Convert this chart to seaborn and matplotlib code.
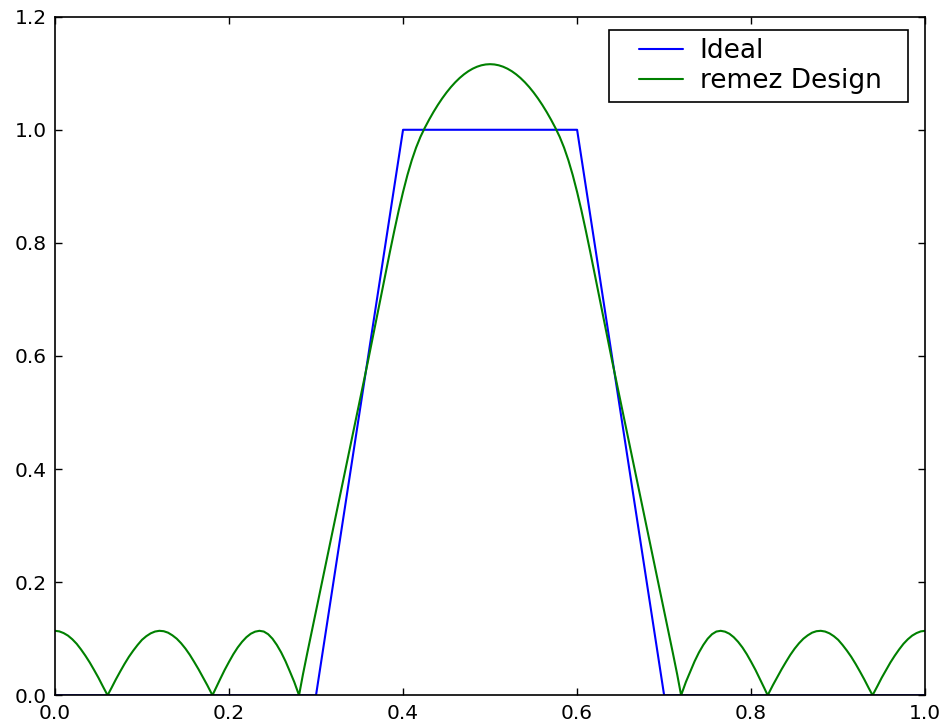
import matplotlib
matplotlib.use("Agg")
import matplotlib.pyplot as plt
from matplotlib.lines import Line2D
from matplotlib.legend_handler import HandlerLine2D
import seaborn as sns

# ideal band-pass response
ideal_freq = [0.0, 0.3, 0.4, 0.6, 0.7, 1.0]
ideal_gain = [0.0, 0.0, 1.0, 1.0, 0.0, 0.0]

# remez design magnitude response
remez_freq = [
    0.000, 0.005, 0.010, 0.015, 0.020, 0.025, 0.030, 0.035, 0.040, 0.045,
    0.050, 0.055, 0.0605, 0.065, 0.070, 0.075, 0.080, 0.085, 0.090, 0.095,
    0.100, 0.105, 0.110, 0.115, 0.120, 0.125, 0.130, 0.135, 0.140, 0.145,
    0.150, 0.155, 0.160, 0.165, 0.170, 0.175, 0.181, 0.185, 0.190, 0.195,
    0.200, 0.205, 0.210, 0.215, 0.220, 0.225, 0.230, 0.235, 0.240, 0.245,
    0.250, 0.255, 0.260, 0.265, 0.270, 0.275, 0.2805, 0.285, 0.290, 0.295,
    0.300, 0.305, 0.310, 0.315, 0.320, 0.325, 0.330, 0.335, 0.340, 0.345,
    0.350, 0.355, 0.360, 0.365, 0.370, 0.375, 0.380, 0.385, 0.390, 0.395,
    0.400, 0.405, 0.410, 0.415, 0.420, 0.425, 0.430, 0.435, 0.440, 0.445,
    0.450, 0.455, 0.460, 0.465, 0.470, 0.475, 0.480, 0.485, 0.490, 0.495,
    0.500,
    0.505, 0.510, 0.515, 0.520, 0.525, 0.530, 0.535, 0.540, 0.545, 0.550,
    0.555, 0.560, 0.565, 0.570, 0.575, 0.580, 0.585, 0.590, 0.595, 0.600,
    0.605, 0.610, 0.615, 0.620, 0.625, 0.630, 0.635, 0.640, 0.645, 0.650,
    0.655, 0.660, 0.665, 0.670, 0.675, 0.680, 0.685, 0.690, 0.695, 0.700,
    0.705, 0.710, 0.715, 0.7195, 0.725, 0.730, 0.735, 0.740, 0.745, 0.750,
    0.755, 0.760, 0.765, 0.770, 0.775, 0.780, 0.785, 0.790, 0.795, 0.800,
    0.805, 0.810, 0.815, 0.819, 0.825, 0.830, 0.835, 0.840, 0.845, 0.850,
    0.855, 0.860, 0.865, 0.870, 0.875, 0.880, 0.885, 0.890, 0.895, 0.900,
    0.905, 0.910, 0.915, 0.920, 0.925, 0.930, 0.935, 0.9395, 0.945, 0.950,
    0.955, 0.960, 0.965, 0.970, 0.975, 0.980, 0.985, 0.990, 0.995, 1.000,
]
remez_gain = [
    0.114, 0.113, 0.110, 0.1055, 0.099, 0.091, 0.081, 0.070, 0.058, 0.0447,
    0.031, 0.016, 0.000, 0.013, 0.028, 0.042, 0.0555, 0.068, 0.079, 0.089,
    0.098, 0.1045, 0.1095, 0.1127, 0.114, 0.1133, 0.1107, 0.106, 0.100, 0.092,
    0.0825, 0.0715, 0.059, 0.046, 0.032, 0.018, 0.000, 0.013, 0.029, 0.0447,
    0.059, 0.0726, 0.0845, 0.0945, 0.1027, 0.1088, 0.1125, 0.114, 0.1127, 0.108,
    0.100, 0.089, 0.0757, 0.060, 0.042, 0.0235, 0.000, 0.037, 0.075, 0.112,
    0.149, 0.186, 0.223, 0.260, 0.297, 0.334, 0.371, 0.408, 0.445, 0.482,
    0.519, 0.556, 0.593, 0.6313, 0.6698, 0.7083, 0.7468, 0.7848, 0.8218, 0.8572,
    0.890, 0.9198, 0.946, 0.9685, 0.9875, 1.0035, 1.018, 1.0315, 1.044, 1.0555,
    1.066, 1.0755, 1.084, 1.0915, 1.098, 1.1035, 1.108, 1.1115, 1.114, 1.1155,
    1.116,
    1.1155, 1.114, 1.1115, 1.108, 1.1035, 1.098, 1.0915, 1.084, 1.0755, 1.066,
    1.0555, 1.044, 1.0315, 1.018, 1.0035, 0.9875, 0.9685, 0.946, 0.9198, 0.890,
    0.8572, 0.8218, 0.7848, 0.7468, 0.7083, 0.6698, 0.6313, 0.593, 0.556, 0.519,
    0.482, 0.445, 0.408, 0.371, 0.334, 0.297, 0.260, 0.223, 0.186, 0.149,
    0.112, 0.075, 0.037, 0.000, 0.0235, 0.042, 0.060, 0.0757, 0.089, 0.100,
    0.108, 0.1127, 0.114, 0.1125, 0.1088, 0.1027, 0.0945, 0.0845, 0.0726, 0.059,
    0.0447, 0.029, 0.013, 0.000, 0.018, 0.032, 0.046, 0.059, 0.0715, 0.0825,
    0.092, 0.100, 0.106, 0.1107, 0.1133, 0.114, 0.1127, 0.1095, 0.1045, 0.098,
    0.089, 0.079, 0.068, 0.0555, 0.042, 0.028, 0.013, 0.000, 0.016, 0.031,
    0.0447, 0.058, 0.070, 0.081, 0.091, 0.099, 0.1055, 0.110, 0.113, 0.114,
]

sns.set_style("white", {
    "axes.edgecolor": "black",
    "xtick.direction": "in",
    "ytick.direction": "in",
    "xtick.top": True,
    "ytick.right": True,
    "xtick.bottom": True,
    "ytick.left": True,
})
plt.rcParams["font.family"] = ["DejaVu Sans"]
plt.rcParams["text.color"] = "black"
plt.rcParams["xtick.color"] = "black"
plt.rcParams["ytick.color"] = "black"
plt.rcParams["axes.labelcolor"] = "black"
plt.rcParams["legend.numpoints"] = 1

fig = plt.figure(figsize=(9.47, 7.25), dpi=100)
ax = fig.add_axes([0.058, 0.041, 0.919, 0.936])

sns.lineplot(x=ideal_freq, y=ideal_gain, color="#0000ff", linewidth=1.5,
             label="Ideal", ax=ax)
sns.lineplot(x=remez_freq, y=remez_gain, color="#008000", linewidth=1.5,
             label="remez Design", ax=ax)

ax.set_xlim(0, 1.0)
ax.set_ylim(0, 1.2)
ax.set_xticks([0.0, 0.2, 0.4, 0.6, 0.8, 1.0])
ax.set_yticks([0.0, 0.2, 0.4, 0.6, 0.8, 1.0, 1.2])
ax.tick_params(which="both", direction="in", length=5, width=1,
               labelsize=14.5, pad=6, top=True, right=True,
               colors="black")
for sp in ax.spines.values():
    sp.set_linewidth(1.2)
    sp.set_color("black")

# old-style legend: blank space left of the handle, wide box
leg = ax.legend(loc="upper left", bbox_to_anchor=(0.6366, 0.9804, 0.3436, 0),
                mode="expand", borderaxespad=0, fontsize=19, fancybox=False,
                edgecolor="black", framealpha=1,
                handlelength=2.5, handletextpad=0.64, borderpad=0.3,
                labelspacing=0.15,
                handler_map={Line2D: HandlerLine2D(xpad=0.83)})
leg.get_frame().set_linewidth(1.2)

fig.savefig("out.png", dpi=100)
